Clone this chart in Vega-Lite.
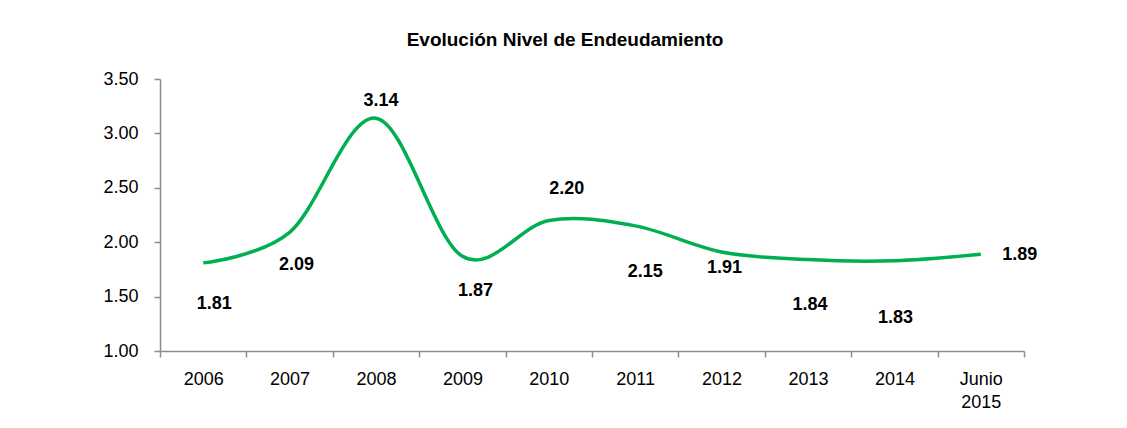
{
  "$schema": "https://vega.github.io/schema/vega-lite/v6.json",
  "width": 864,
  "height": 272,
  "autosize": "none",
  "padding": {"left": 160, "top": 79, "right": 103, "bottom": 77},
  "background": "white",
  "config": {
    "view": {"stroke": null},
    "font": "Liberation Sans, Arial, sans-serif"
  },
  "title": {
    "text": "Evolución Nivel de Endeudamiento",
    "font": "Liberation Sans, Arial, sans-serif",
    "fontSize": 19,
    "fontWeight": "bold",
    "color": "#000000",
    "anchor": "middle",
    "dx": -27,
    "offset": 20
  },
  "data": {
    "values": [
      {"year": "2006", "value": 1.81},
      {"year": "2007", "value": 2.09},
      {"year": "2008", "value": 3.14},
      {"year": "2009", "value": 1.87},
      {"year": "2010", "value": 2.20},
      {"year": "2011", "value": 2.15},
      {"year": "2012", "value": 1.91},
      {"year": "2013", "value": 1.84},
      {"year": "2014", "value": 1.83},
      {"year": "Junio 2015", "value": 1.89}
    ]
  },
  "encoding": {
    "x": {
      "field": "year",
      "type": "ordinal",
      "sort": null,
      "scale": {"paddingInner": 0, "paddingOuter": 0},
      "axis": {
        "title": null,
        "labelAngle": 0,
        "labelFontSize": 18,
        "labelColor": "#000000",
        "labelPadding": 13,
        "labelExpr": "split(datum.label, ' ')",
        "labelLineHeight": 23,
        "tickBand": "extent",
        "tickSize": 6,
        "domainColor": "#8c8c8c",
        "tickColor": "#8c8c8c",
        "domainWidth": 1.5,
        "tickWidth": 1.5,
        "grid": false
      }
    },
    "y": {
      "field": "value",
      "type": "quantitative",
      "scale": {"domain": [1, 3.5], "nice": false, "zero": false},
      "axis": {
        "title": null,
        "values": [1, 1.5, 2, 2.5, 3, 3.5],
        "format": ".2f",
        "labelFontSize": 18,
        "labelColor": "#000000",
        "labelPadding": 16,
        "tickSize": 6,
        "domainColor": "#8c8c8c",
        "tickColor": "#8c8c8c",
        "domainWidth": 1.5,
        "tickWidth": 1.5,
        "grid": false
      }
    }
  },
  "layer": [
    {
      "mark": {"type": "line", "color": "#00B050", "strokeWidth": 3.5, "interpolate": "cardinal"}
    },
    {
      "transform": [{"filter": "datum.year == '2006'"}],
      "mark": {"type": "text", "fontWeight": "bold", "fontSize": 18, "dx": 11, "dy": 41, "color": "#000000"},
      "encoding": {"text": {"field": "value", "format": ".2f"}}
    },
    {
      "transform": [{"filter": "datum.year == '2007'"}],
      "mark": {"type": "text", "fontWeight": "bold", "fontSize": 18, "dx": 7, "dy": 33, "color": "#000000"},
      "encoding": {"text": {"field": "value", "format": ".2f"}}
    },
    {
      "transform": [{"filter": "datum.year == '2008'"}],
      "mark": {"type": "text", "fontWeight": "bold", "fontSize": 18, "dx": 5, "dy": -17, "color": "#000000"},
      "encoding": {"text": {"field": "value", "format": ".2f"}}
    },
    {
      "transform": [{"filter": "datum.year == '2009'"}],
      "mark": {"type": "text", "fontWeight": "bold", "fontSize": 18, "dx": 13, "dy": 35, "color": "#000000"},
      "encoding": {"text": {"field": "value", "format": ".2f"}}
    },
    {
      "transform": [{"filter": "datum.year == '2010'"}],
      "mark": {"type": "text", "fontWeight": "bold", "fontSize": 18, "dx": 18, "dy": -31, "color": "#000000"},
      "encoding": {"text": {"field": "value", "format": ".2f"}}
    },
    {
      "transform": [{"filter": "datum.year == '2011'"}],
      "mark": {"type": "text", "fontWeight": "bold", "fontSize": 18, "dx": 10, "dy": 46, "color": "#000000"},
      "encoding": {"text": {"field": "value", "format": ".2f"}}
    },
    {
      "transform": [{"filter": "datum.year == '2012'"}],
      "mark": {"type": "text", "fontWeight": "bold", "fontSize": 18, "dx": 3, "dy": 16, "color": "#000000"},
      "encoding": {"text": {"field": "value", "format": ".2f"}}
    },
    {
      "transform": [{"filter": "datum.year == '2013'"}],
      "mark": {"type": "text", "fontWeight": "bold", "fontSize": 18, "dx": 2, "dy": 45, "color": "#000000"},
      "encoding": {"text": {"field": "value", "format": ".2f"}}
    },
    {
      "transform": [{"filter": "datum.year == '2014'"}],
      "mark": {"type": "text", "fontWeight": "bold", "fontSize": 18, "dx": 1, "dy": 57, "color": "#000000"},
      "encoding": {"text": {"field": "value", "format": ".2f"}}
    },
    {
      "transform": [{"filter": "datum.year == 'Junio 2015'"}],
      "mark": {"type": "text", "fontWeight": "bold", "fontSize": 18, "dx": 39, "dy": 1, "color": "#000000"},
      "encoding": {"text": {"field": "value", "format": ".2f"}}
    }
  ]
}
